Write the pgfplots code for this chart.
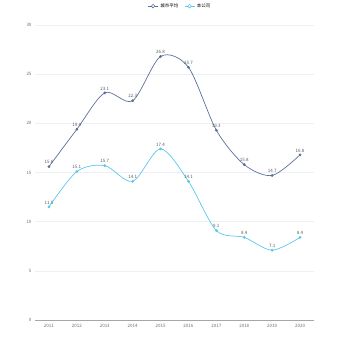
\documentclass[border=0pt]{standalone}
\usepackage{fontspec}
\setmainfont{Noto Sans CJK SC}
\usepackage{pgfplots}
\pgfplotsset{compat=1.18}
\definecolor{cityc}{HTML}{5B6F9A}
\definecolor{compc}{HTML}{5CC6EE}
\definecolor{gridc}{HTML}{EEF0F7}
\definecolor{labc}{HTML}{6E6E6E}
\begin{document}
\begin{tikzpicture}[x=1bp,y=1bp]
\useasboundingbox (0,0) rectangle (350,350);
\begin{axis}[
  at={(35bp,30bp)}, anchor=south west,
  scale only axis, width=279bp, height=295bp,
  xmin=-0.5, xmax=9.5, ymin=0, ymax=30,
  ytick={0,5,...,30},
  xtick={0,...,9},
  xticklabels={2011,2012,2013,2014,2015,2016,2017,2018,2019,2020},
  major x tick style={draw=none},
  extra x ticks={-0.5,0.5,...,9.5},
  extra x tick labels={},
  extra x tick style={grid=none, tick style={draw=gray!70, line width=0.4pt}, major tick length=3bp, tick align=outside},
  axis x line*=bottom, axis y line*=left,
  x axis line style={draw=gray!70, line width=0.5pt, -},
  y axis line style={draw=none},
  ymajorgrids, grid style={draw=gridc, line width=0.5pt},
  tick label style={font=\fontsize{4.5}{5}\selectfont, text=labc},
  /pgf/number format/assume math mode=true,
  ytick style={draw=none},
  xticklabel style={yshift=-1bp},
  clip=false,
  nodes near coords,
  every node near coord/.append style={font=\fontsize{4.5}{5}\selectfont, text=black!65, yshift=-1bp},
  legend style={at={(0.52,1.0)}, anchor=south, yshift=12bp, draw=none, fill=none,
     font=\fontsize{4.5}{5}\selectfont, legend columns=2,
     /tikz/every even column/.append style={column sep=4bp}},
  legend image code/.code={
     \draw[#1, line width=0.6pt] (0bp,0bp) -- (10bp,0bp);
     \draw[#1, fill=white, line width=0.6pt] (5bp,0bp) circle (1.8bp);},
]
\addplot[cityc, line width=0.7pt, smooth, tension=0.5, mark=*, mark size=1pt, mark options={fill=cityc}]
  coordinates {(0,15.6)(1,19.4)(2,23.1)(3,22.3)(4,26.8)(5,25.7)(6,19.3)(7,15.8)(8,14.7)(9,16.8)};
\addlegendentry{城市平均}
\addplot[compc, line width=0.7pt, smooth, tension=0.5, mark=*, mark size=1pt, mark options={fill=compc}]
  coordinates {(0,11.5)(1,15.1)(2,15.7)(3,14.1)(4,17.4)(5,14.1)(6,9.1)(7,8.4)(8,7.1)(9,8.4)};
\addlegendentry{本公司}
\end{axis}
\end{tikzpicture}
\end{document}
